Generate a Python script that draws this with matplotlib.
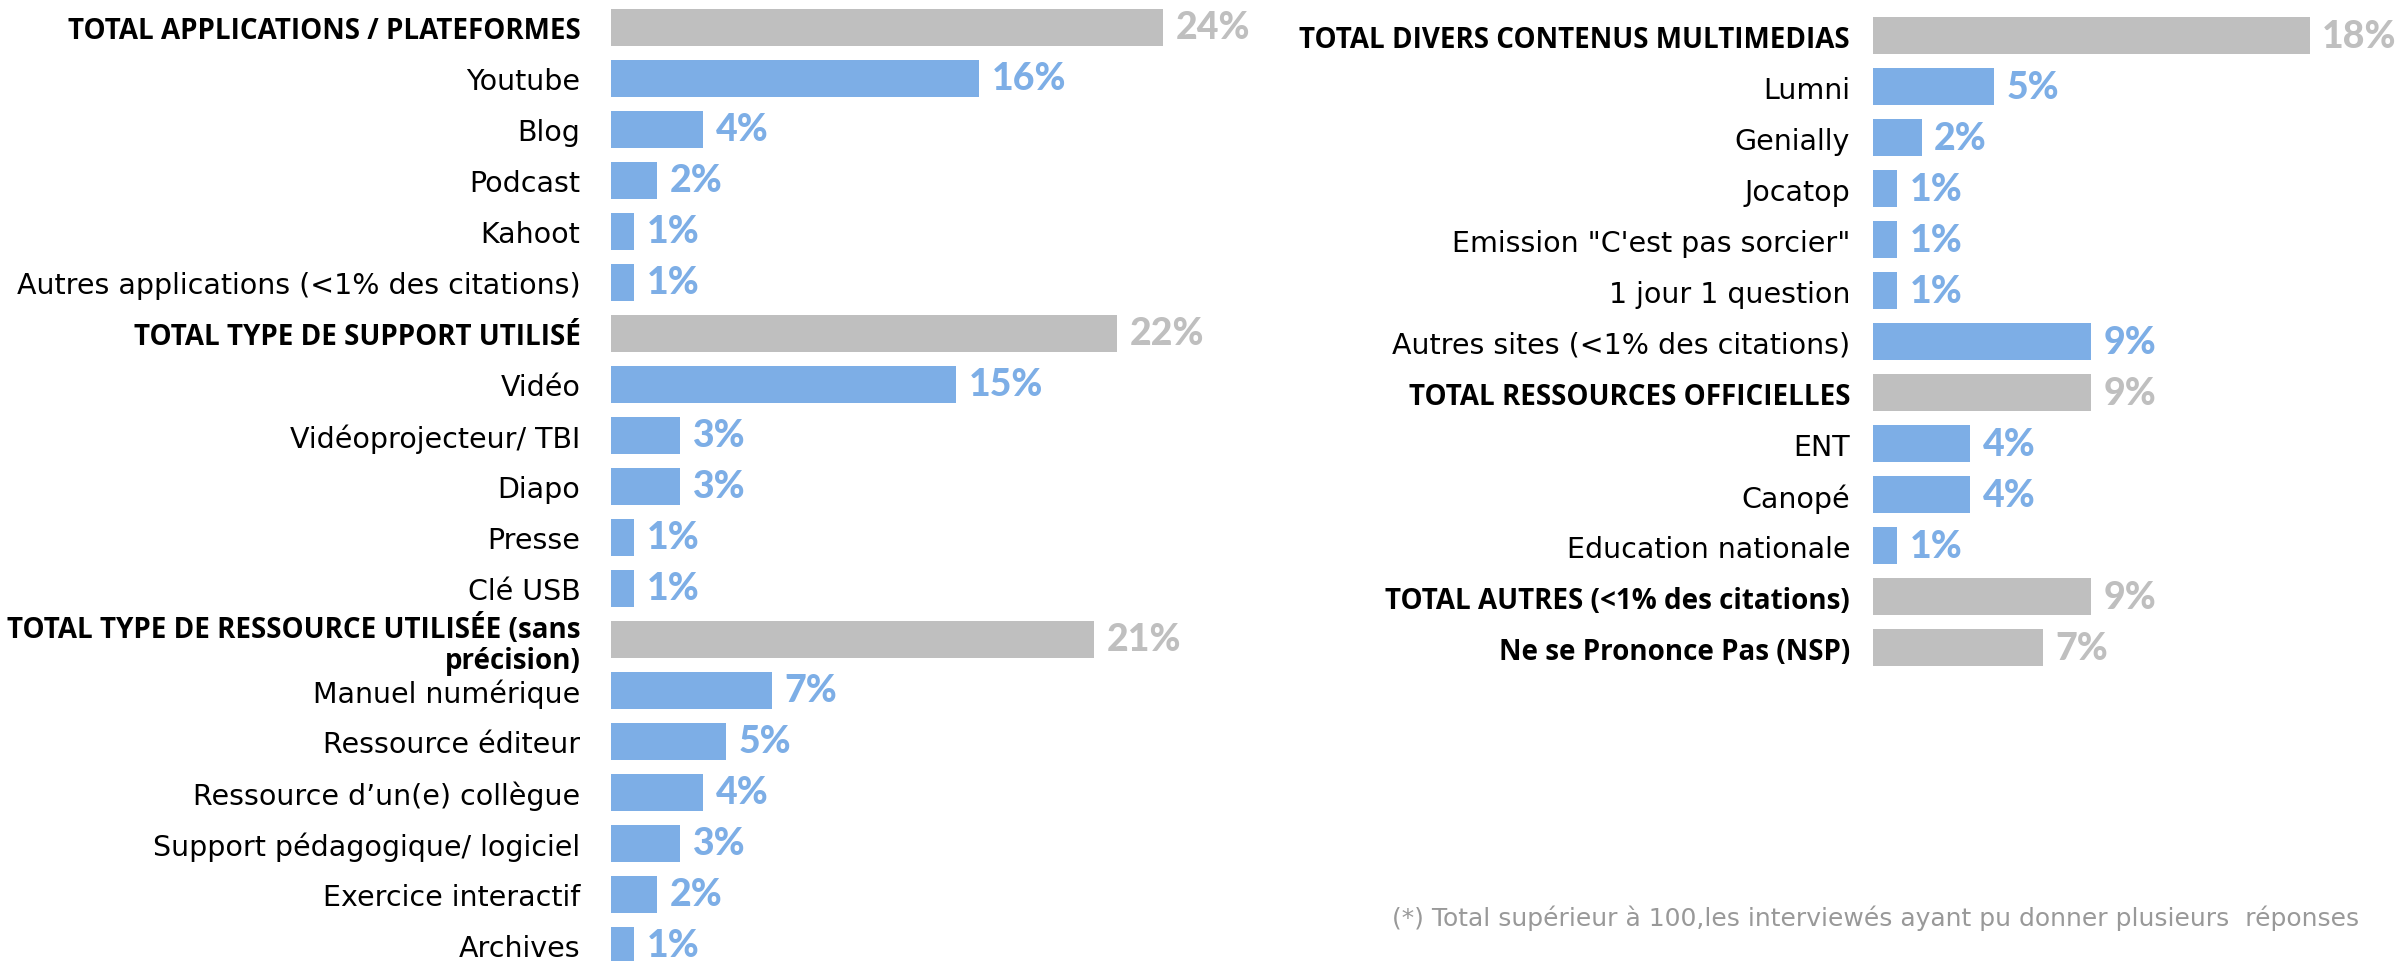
import matplotlib
matplotlib.use("Agg")
import matplotlib.pyplot as plt

# left block
left_labels = [
    "TOTAL APPLICATIONS / PLATEFORMES", "Youtube", "Blog", "Podcast", "Kahoot",
    "Autres applications (<1% des citations)",
    "TOTAL TYPE DE SUPPORT UTILISÉ", "Vidéo", "Vidéoprojecteur/ TBI", "Diapo",
    "Presse", "Clé USB",
    "TOTAL TYPE DE RESSOURCE UTILISÉE (sans\nprécision)", "Manuel numérique",
    "Ressource éditeur", "Ressource d\u2019un(e) collègue",
    "Support pédagogique/ logiciel", "Exercice interactif", "Archives",
]
left_values = [24, 16, 4, 2, 1, 1, 22, 15, 3, 3, 1, 1, 21, 7, 5, 4, 3, 2, 1]
left_total = [1, 0, 0, 0, 0, 0, 1, 0, 0, 0, 0, 0, 1, 0, 0, 0, 0, 0, 0]

# right block
right_labels = [
    "TOTAL DIVERS CONTENUS MULTIMEDIAS", "Lumni", "Genially", "Jocatop",
    "Emission \"C'est pas sorcier\"", "1 jour 1 question",
    "Autres sites (<1% des citations)", "TOTAL RESSOURCES OFFICIELLES", "ENT",
    "Canopé", "Education nationale", "TOTAL AUTRES (<1% des citations)",
    "Ne se Prononce Pas (NSP)",
]
right_values = [18, 5, 2, 1, 1, 1, 9, 9, 4, 4, 1, 9, 7]
right_total = [1, 0, 0, 0, 0, 0, 0, 1, 0, 0, 0, 1, 1]

note = "(*) Total supérieur à 100,les interviewés ayant pu donner plusieurs  réponses"

GREY = "#BFBFBF"
BLUE = "#7DAEE6"
W, H = 2407, 962
ROW = 51.0

fig = plt.figure(figsize=(W / 100, H / 100), dpi=100)


def panel(x0, px_per_unit, xmax, first_center, labels, values, totals, pad):
    n = len(labels)
    top = first_center - ROW / 2
    height = n * ROW
    ax = fig.add_axes([x0 / W, (H - top - height) / H,
                       px_per_unit * xmax / W, height / H])
    ys = list(range(n))
    colors = [GREY if t else BLUE for t in totals]
    bars = ax.barh(ys, values, height=0.72, color=colors)
    texts = ax.bar_label(bars, labels=[f"{v}%" for v in values], padding=9,
                         fontsize=27, fontweight=900, family="Lato")
    for t, c in zip(texts, colors):
        t.set_color(c)
    ax.set_xlim(0, xmax)
    ax.set_ylim(n - 0.5, -0.5)
    ax.set_yticks(ys)
    ax.set_yticklabels(labels)
    for lab, t in zip(ax.get_yticklabels(), totals):
        if t:
            lab.set_family("Open Sans")
            lab.set_fontweight("bold")
            lab.set_fontsize(20)
        else:
            lab.set_family("DejaVu Sans")
            lab.set_fontsize(20.5)
        lab.set_linespacing(1.1)
    ax.tick_params(axis="y", length=0, pad=pad)
    ax.set_xticks([])
    for s in ax.spines.values():
        s.set_visible(False)
    return ax


panel(611, 23.0, 28, 28.4, left_labels, left_values, left_total, 22)
panel(1873, 24.25, 21, 36.8, right_labels, right_values, right_total, 16.5)

fig.text(2359 / W, 1 - 918 / H, note, ha="right", va="center",
         fontsize=18, color="#999999", family="DejaVu Sans")

fig.savefig("out.png", dpi=100)
